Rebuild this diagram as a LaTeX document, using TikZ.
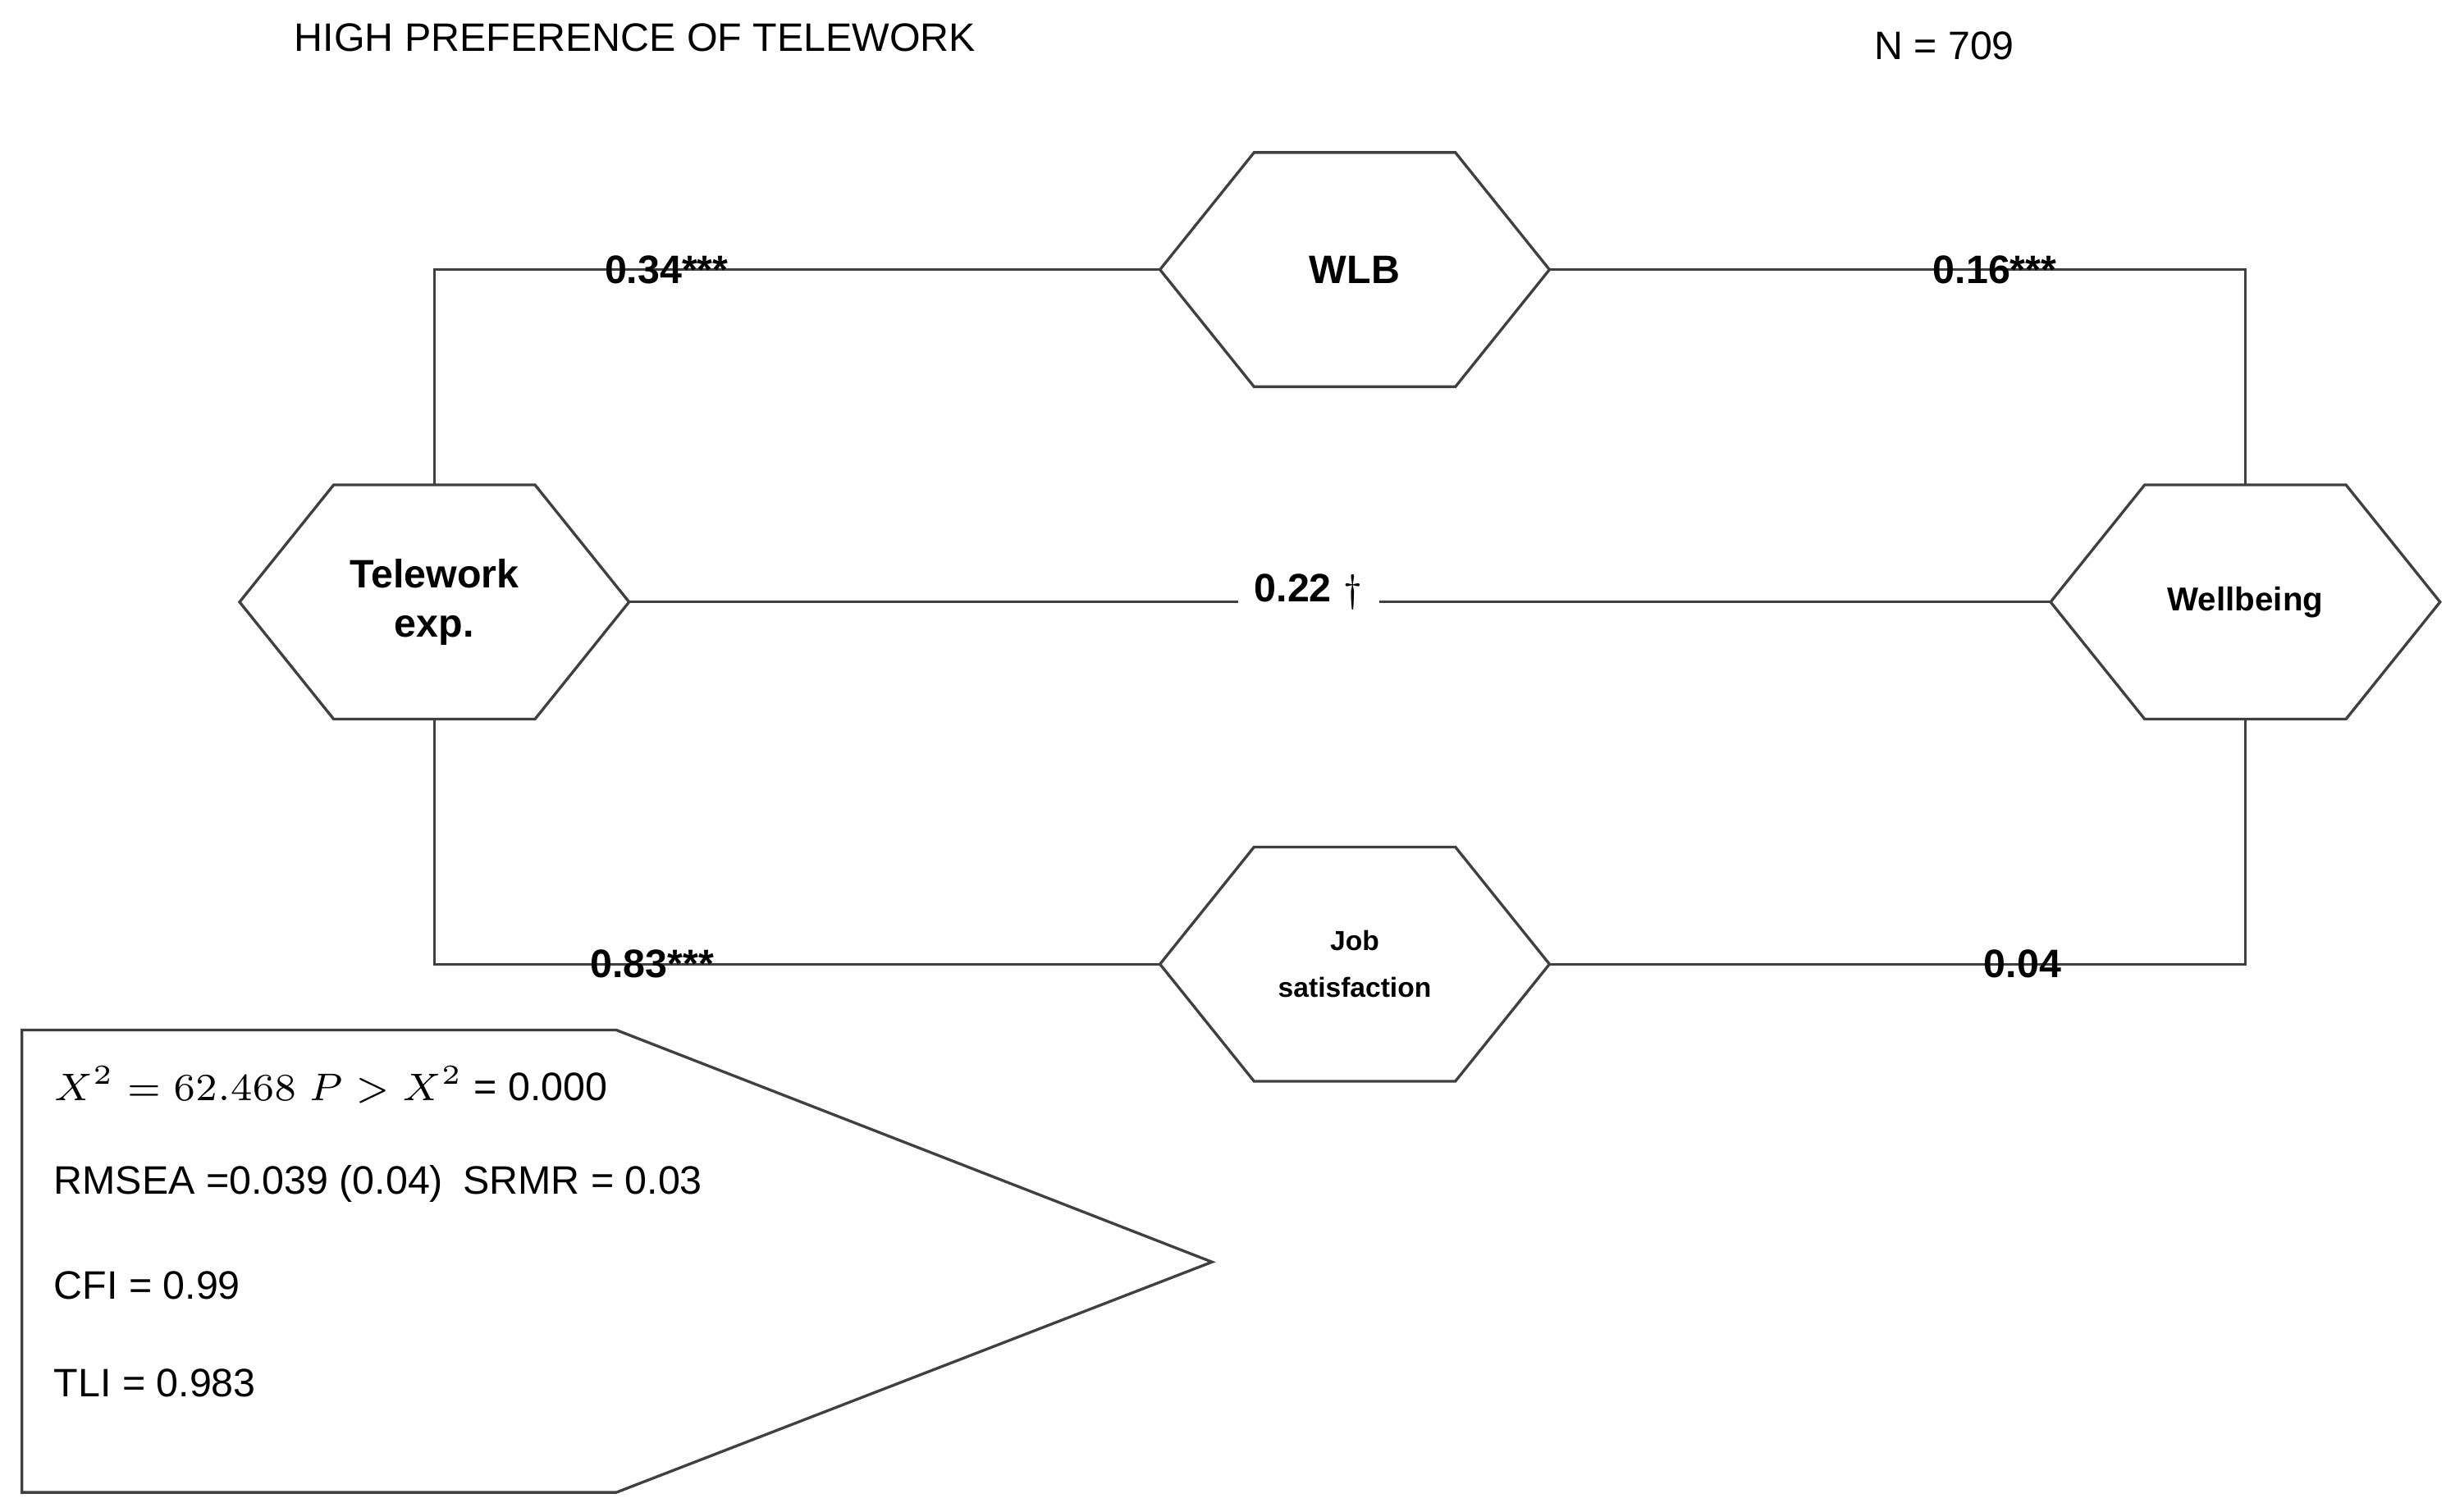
\documentclass[tikz,border=0pt]{standalone}
\usepackage{fontspec}
\setmainfont{Liberation Sans}
\usepackage{amsmath}
\usetikzlibrary{positioning,calc}
\begin{document}
\begin{tikzpicture}[
	x=0.1mm, y=-0.1mm,
	font=\fontsize{7.2}{9}\selectfont,
	hex/.style={
		rectangle,
		minimum width=24.7mm,
		minimum height=14.8mm,
		align=center,
		inner sep=0pt
	},
	line/.style={
		draw=black!75,
		line width=0.5pt
	},
	coef/.style={
		inner sep=1pt,
		font=\fontsize{7.2}{9}\selectfont\bfseries
	}
	]
	\useasboundingbox (0,0) rectangle (1560,964);
	% Titles
	\node (title) at (405,24) {HIGH PREFERENCE OF TELEWORK};
	\node (n) at (1240,29) {N = 709};
	% Latent nodes
	\node[hex, font=\fontsize{7.2}{9}\selectfont\bfseries] (tele) at (277,384) {Telework\\exp.};
	\node[hex, font=\fontsize{7.2}{9}\selectfont\bfseries] (wlb) at (864,172) {WLB};
	\node[hex, font=\fontsize{6}{8}\selectfont\bfseries] (well) at (1432,384) {Wellbeing};
	\node[hex, font=\fontsize{5}{8.5}\selectfont\bfseries] (job) at (864,615) {Job\\satisfaction};
	% Hexagon outlines
	\foreach \h in {tele,wlb,well,job}
		\draw[line] (\h.west) -- ([xshift=6mm]\h.north west) -- ([xshift=-6mm]\h.north east)
			-- (\h.east) -- ([xshift=-6mm]\h.south east) -- ([xshift=6mm]\h.south west) -- cycle;
	% Paths
	\draw[line] (tele.north) |- node[coef, pos=0.66] {0.34***} (wlb.west);
	\draw[line] (wlb.east) -| node[coef, pos=0.32] {0.16***} (well.north);
	\draw[line] (tele.south) |- node[coef, pos=0.65] {0.83***} (job.west);
	\draw[line] (job.east) -| node[coef, pos=0.34] {0.04} (well.south);
	\draw[line] (tele.east) -- (well.west)
		node[pos=0.478, fill=white, anchor=base, inner sep=3pt, text depth=4.5mm,
			font=\fontsize{7.2}{9}\selectfont\bfseries] (dir) {0.22 $\dagger$};
	% Fit statistics
	\draw[line] (14,657) -- (393,657) -- (773,805) -- (393,952) -- (14,952) -- cycle;
	\node[anchor=west] (chi) at (22,692) {$X^2=62.468\;P>X^2$ = 0.000};
	\node[anchor=west] (rmsea) at (22,755) {RMSEA =0.039 (0.04)\enspace SRMR = 0.03};
	\node[anchor=west] (cfi) at (22,820) {CFI = 0.99};
	\node[anchor=west] (tli) at (22,882) {TLI = 0.983};
\end{tikzpicture}
\end{document}
